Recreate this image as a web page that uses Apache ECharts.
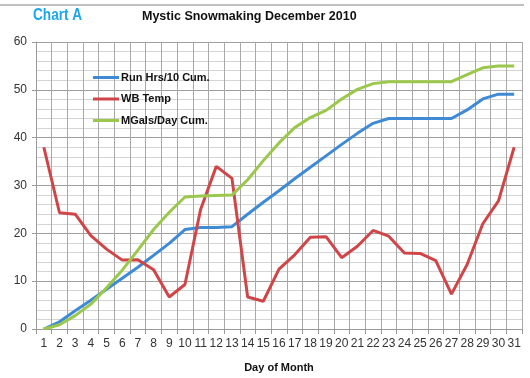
<!DOCTYPE html>
<html>
<head>
<meta charset="utf-8">
<script src="https://cdn.jsdelivr.net/npm/echarts@6/dist/echarts.min.js"></script>
<style>html,body{margin:0;padding:0;background:#fff}#c{width:530px;height:378px}</style>
</head>
<body>
<div id="c"></div>
<script>
const days = ['1','2','3','4','5','6','7','8','9','10','11','12','13','14','15','16','17','18','19','20','21','22','23','24','25','26','27','28','29','30','31'];
const runHrs = [0,1.5,3.8,6.0,8.3,10.6,12.9,15.4,17.9,20.8,21.2,21.2,21.4,24.0,26.5,28.9,31.4,33.8,36.2,38.6,40.9,43.0,44.0,44.0,44.0,44.0,44.0,45.8,48.1,49.1,49.1];
const wbTemp = [38,24.3,24,19.5,16.7,14.4,14.5,12.4,6.7,9.3,25,34,31.5,6.7,5.8,12.5,15.5,19.2,19.3,14.9,17.3,20.6,19.4,15.9,15.8,14.3,7.3,13.5,22,26.8,38];
const mgals = [0,0.9,2.8,5.2,8.6,12.3,16.5,20.8,24.4,27.6,27.8,27.9,28.0,31.2,35.2,38.9,42.1,44.2,45.7,48.1,50.1,51.3,51.7,51.7,51.7,51.7,51.7,53.2,54.6,55.0,55.0];
const yTicks = {min:0, max:60, interval:10};

const chart = echarts.init(document.getElementById('c'), null, {renderer:'canvas'});
chart.setOption({
  animation:false,
  backgroundColor:'#fff',
  graphic:[
    {type:'line', shape:{x1:0,y1:5,x2:524,y2:5}, style:{stroke:'#c0c0c0', lineWidth:2}},
    {type:'text', x:33, y:8, scaleX:0.85, style:{text:'Chart A', fill:'#1aa7ec', font:'bold 16px "Liberation Sans", sans-serif'}},
    {type:'text', x:142, y:10, style:{text:'Mystic Snowmaking December 2010', fill:'#111', font:'bold 12.5px "Liberation Sans", sans-serif'}}
  ],
  grid:{left:36, right:8, top:42, bottom:43},
  legend:{
    orient:'vertical', left:88, top:67,
    itemWidth:26, itemHeight:3, itemGap:10.5,
    icon:'rect',
    textStyle:{fontSize:11, fontWeight:'bold', color:'#111', fontFamily:'"Liberation Sans", sans-serif', padding:[0,0,0,-3]},
    data:['Run Hrs/10 Cum.','WB Temp','MGals/Day Cum.']
  },
  xAxis:{
    type:'category', data:days, boundaryGap:true,
    name:'Day of Month', nameLocation:'middle', nameGap:33,
    nameTextStyle:{fontSize:11, fontWeight:'bold', color:'#111', fontFamily:'"Liberation Sans", sans-serif'},
    axisLine:{lineStyle:{color:'#9a9a9a', width:1}},
    axisTick:{show:true, interval:0, length:5, lineStyle:{color:'#9a9a9a'}},
    axisLabel:{interval:0, fontSize:12, color:'#333', margin:9, fontFamily:'"Liberation Sans", sans-serif'},
    splitLine:{show:true, interval:0, lineStyle:{color:'#a8a8a8', width:1}}
  },
  yAxis:{
    type:'value', min:yTicks.min, max:yTicks.max, interval:yTicks.interval,
    axisLine:{show:true, lineStyle:{color:'#9a9a9a'}},
    axisTick:{show:true, length:4, lineStyle:{color:'#9a9a9a'}},
    axisLabel:{fontSize:12, color:'#333', margin:9, fontFamily:'"Liberation Sans", sans-serif'},
    splitLine:{show:true, lineStyle:{color:'#a0a0a0', width:1}},
    minorTick:{show:false, splitNumber:5},
    minorSplitLine:{show:true, lineStyle:{color:'#d4d4d4', width:1}}
  },
  series:[
    {name:'Run Hrs/10 Cum.', type:'line', data:runHrs, symbol:'none', lineStyle:{width:3, color:'#3f8ad4'}, itemStyle:{color:'#3f8ad4'}},
    {name:'WB Temp', type:'line', data:wbTemp, symbol:'none', lineStyle:{width:3, color:'#d04548'}, itemStyle:{color:'#d04548'}},
    {name:'MGals/Day Cum.', type:'line', data:mgals, symbol:'none', lineStyle:{width:3, color:'#9bc84c'}, itemStyle:{color:'#9bc84c'}}
  ]
});
</script>
</body>
</html>
